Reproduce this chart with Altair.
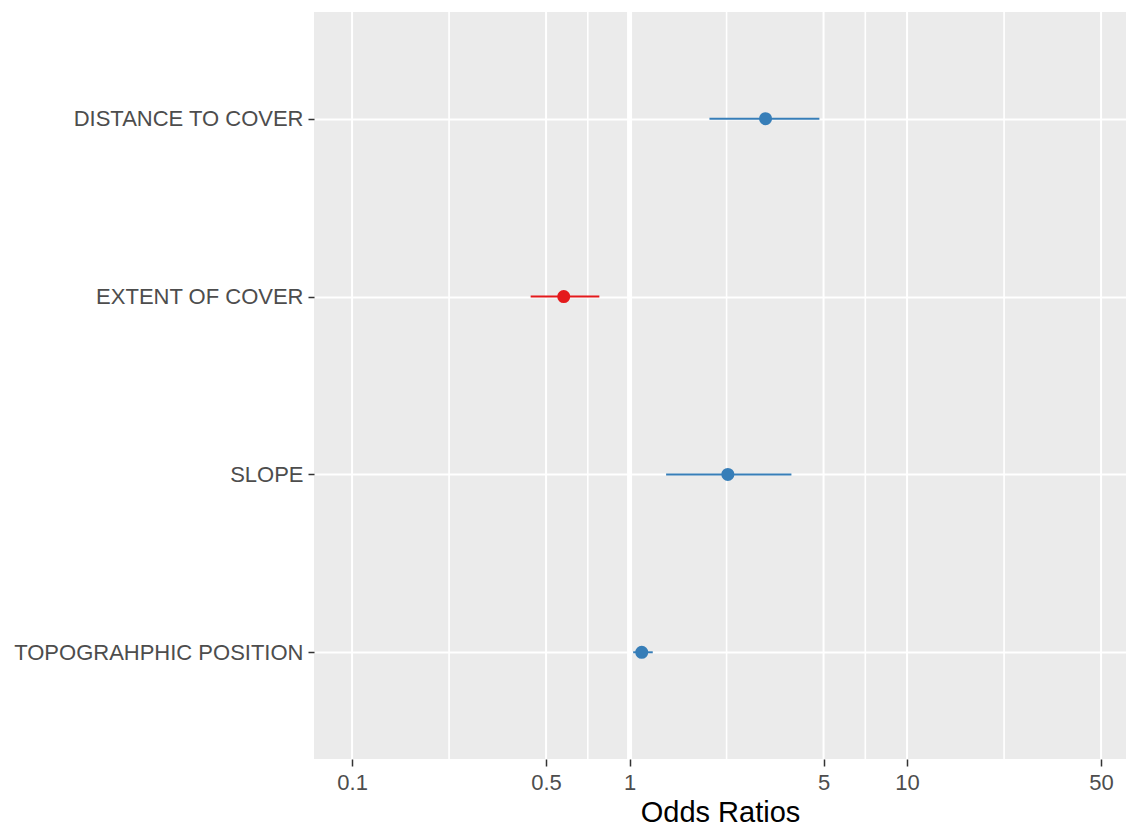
import altair as alt
import pandas as pd

# ---- data ----
categories = ["DISTANCE TO COVER", "EXTENT OF COVER", "SLOPE", "TOPOGRAHPHIC POSITION"]
odds_ratio = [3.09, 0.579, 2.26, 1.106]
ci_low = [1.94, 0.440, 1.354, 1.03]
ci_high = [4.83, 0.778, 3.83, 1.212]
direction = ["up", "down", "up", "up"]

x_breaks = [0.1, 0.5, 1, 5, 10, 50]
x_minor = [0.2236, 0.7071, 2.236, 7.071, 22.36]
ref_line = [1]

df = pd.DataFrame({
    "cat": categories,
    "or": odds_ratio,
    "lo": ci_low,
    "hi": ci_high,
    "dir": direction,
})

FONT = "Liberation Sans"
xscale = alt.Scale(type="log", domain=[0.0729, 61.5], nice=False)
yscale = alt.Scale(type="point", padding=0.6, domain=categories)
color = alt.Color("dir:N", scale=alt.Scale(domain=["up", "down"], range=["#377EB8", "#E41A1C"]), legend=None)

xaxis = alt.Axis(
    values=x_breaks, format="~g", title="Odds Ratios", grid=False, domain=False,
    tickColor="#333333", tickSize=7, tickWidth=1.5, labelColor="#4D4D4D",
    labelFontSize=22, labelFont=FONT, labelPadding=6,
    titleFont=FONT, titleFontSize=29, titleColor="#000000", titleFontWeight="normal",
    titlePadding=5,
)
yaxis = alt.Axis(
    title=None, grid=True, gridColor="white", gridWidth=2, domain=False,
    tickColor="#333333", tickSize=6, tickWidth=1.5, labelColor="#4D4D4D",
    labelFontSize=22, labelFont=FONT, labelPadding=5, labelLimit=400,
)

def X(field):
    return alt.X(field, type="quantitative", scale=xscale, axis=xaxis)

def Y():
    return alt.Y("cat:N", scale=yscale, axis=yaxis, sort=categories)

minor = alt.Chart(pd.DataFrame({"v": x_minor})).mark_rule(color="white", strokeWidth=1.6).encode(x=X("v"))
major = alt.Chart(pd.DataFrame({"v": x_breaks})).mark_rule(color="white", strokeWidth=2).encode(x=X("v"))
vline = alt.Chart(pd.DataFrame({"v": ref_line})).mark_rule(color="white", strokeWidth=5).encode(x=X("v"))

bars = alt.Chart(df).mark_rule(strokeWidth=2).encode(
    x=X("lo"), x2="hi", y=Y(), color=color
)
points = alt.Chart(df).mark_point(filled=True, opacity=1, size=170, shape="circle").encode(
    x=X("or"), y=Y(), color=color
)

chart = alt.layer(minor, major, vline, bars, points).properties(
    width=812, height=747,
    autosize=alt.AutoSizeParams(type="none"),
    padding={"left": 314, "top": 12, "right": 0, "bottom": 68},
    background="white",
).configure_view(fill="#EBEBEB", stroke=None)

chart.save("out.html", embed_options={"renderer": "svg", "actions": False})
